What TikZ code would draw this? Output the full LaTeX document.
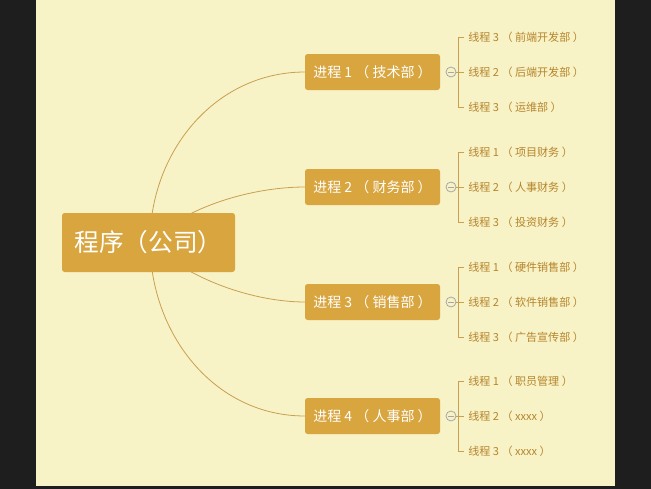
\documentclass[tikz,border=0pt]{standalone}
\usepackage{fontspec}
\setmainfont{Noto Sans CJK SC}
\begin{document}
\begin{tikzpicture}[x=0.75pt,y=-0.75pt,
  proc/.style={fill=nodefill,rounded corners=2pt,text=white,minimum width=101.25pt,minimum height=27pt,inner sep=0pt,font=\fontsize{10.5}{12}\selectfont},
  leaf/.style={anchor=west,text=leaftext,inner sep=0pt,font=\fontsize{8.3}{10}\selectfont},
  conn/.style={draw=linecol,line width=0.6pt}]
\definecolor{bgc}{HTML}{F8F2C7}
\definecolor{dark}{HTML}{1E1E1E}
\definecolor{nodefill}{HTML}{D8A53F}
\definecolor{linecol}{HTML}{C8A050}
\definecolor{leaftext}{HTML}{B5852C}
\fill[dark] (0,0) rectangle (651,489);
\fill[bgc] (36,0) rectangle (615,486);
\useasboundingbox (0,0) rectangle (651,489);
\coordinate (hub) at (150,242);
\coordinate (p1w) at (305,72);
\coordinate (p2w) at (305,187);
\coordinate (p3w) at (305,302);
\coordinate (p4w) at (305,416);
\draw[conn] (hub) to[out=90,in=180,looseness=1.0] (p1w);
\draw[conn] (hub) to[out=45,in=180,looseness=0.8] (p2w);
\draw[conn] (hub) to[out=-45,in=180,looseness=0.8] (p3w);
\draw[conn] (hub) to[out=-90,in=180,looseness=1.0] (p4w);
\node[fill=nodefill,rounded corners=2pt,text=white,minimum width=129.75pt,minimum height=44.25pt,font=\fontsize{18.5}{20}\selectfont] (main) at (148.5,242.5) {程序（公司）};
\foreach \i/\y/\t/\a/\b/\c in {
 1/72/进程 1 （ 技术部 ）/线程 3 （ 前端开发部 ）/线程 2 （ 后端开发部 ）/线程 3 （ 运维部 ）,
 2/187/进程 2 （ 财务部 ）/线程 1 （ 项目财务 ）/线程 2 （ 人事财务 ）/线程 3 （ 投资财务 ）,
 3/302/进程 3 （ 销售部 ）/线程 1 （ 硬件销售部 ）/线程 2 （ 软件销售部 ）/线程 3 （ 广告宣传部 ）,
 4/416/进程 4 （ 人事部 ）/线程 1 （ 职员管理 ）/线程 2 （ xxxx ）/线程 3 （ xxxx ）}{
 \node[proc] (p\i) at (372.5,\y) {\t};
 \node[circle,draw=gray!70,line width=0.6pt,minimum size=7.5pt,inner sep=0pt] (c\i) at (451,\y) {};
 \draw[gray!70,line width=0.6pt] ([xshift=-2pt]c\i.center) -- ([xshift=2pt]c\i.center);
 \coordinate (t\i) at (464,\y-35);
 \coordinate (m\i) at (464,\y);
 \coordinate (b\i) at (464,\y+35);
 \draw[conn] (c\i.east) -- (m\i);
 \draw[conn] (t\i) -- (458,\y-35) -- (458,\y+35) -- (b\i);
 \node[leaf] (la\i) at (468,\y-35) {\a};
 \node[leaf] (lb\i) at (468,\y) {\b};
 \node[leaf] (lc\i) at (468,\y+35) {\c};
}
\end{tikzpicture}
\end{document}
